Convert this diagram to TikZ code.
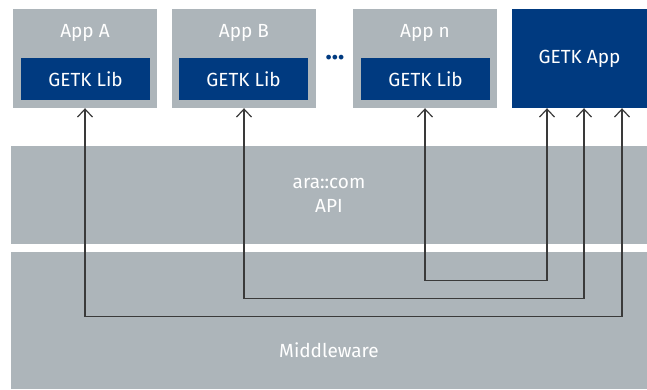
\documentclass[tikz,border=0pt]{standalone}
\usepackage{fontspec}
\setmainfont{Fira Sans}
\usetikzlibrary{arrows.meta}
\definecolor{layergray}{HTML}{ADB5BA}
\definecolor{getkblue}{HTML}{003A80}
\definecolor{wire}{HTML}{3A3A3A}
\begin{document}
\begin{tikzpicture}[x=1pt, y=-1pt,
    every node/.style={font=\fontsize{19}{24}\selectfont, text=white, inner sep=0pt},
    appbox/.style={fill=layergray, minimum width=144pt, minimum height=99pt},
    libbox/.style={fill=getkblue, minimum width=129pt, minimum height=42pt},
    layer/.style={fill=layergray, minimum width=636pt},
    link/.style={draw=wire, line width=1.2pt, {Straight Barb[length=8pt,width=15pt]}-{Straight Barb[length=8pt,width=15pt]}}]
    \useasboundingbox (0,0) rectangle (647,390);
    \node[appbox] (appA) at (85,58.5) {};
    \node[appbox] (appB) at (244,58.5) {};
    \node[appbox] (appN) at (425,58.5) {};
    \node[fill=getkblue, minimum width=135pt, minimum height=99pt] (getk) at (579.5,58.5) {GETK App};
    \node (tA) at (85,33) {App A};
    \node (tB) at (244,33) {App B};
    \node (tN) at (425,33) {App n};
    \node[libbox] (libA) at (85.5,79) {GETK Lib};
    \node[libbox] (libB) at (243.5,79) {GETK Lib};
    \node[libbox] (libN) at (425.5,79) {GETK Lib};
    \node[text=getkblue, font=\bfseries\fontsize{26}{26}\selectfont] (dots) at (335,58) {...};

    \node[layer, minimum height=98pt, align=center] (api) at (329,195) {ara::com\\API};
    \node[layer, minimum height=137pt] (mw) at (329,320.5) {};
    \node (mwt) at (329,350) {Middleware};

    \draw[link] (appN.south) -- ++(0,172) -| ([xshift=-32.5pt]getk.south);
    \draw[link] (appB.south) -- ++(0,190) -| ([xshift=4.5pt]getk.south);
    \draw[link] (appA.south) -- ++(0,208) -| ([xshift=42.5pt]getk.south);
\end{tikzpicture}
\end{document}
